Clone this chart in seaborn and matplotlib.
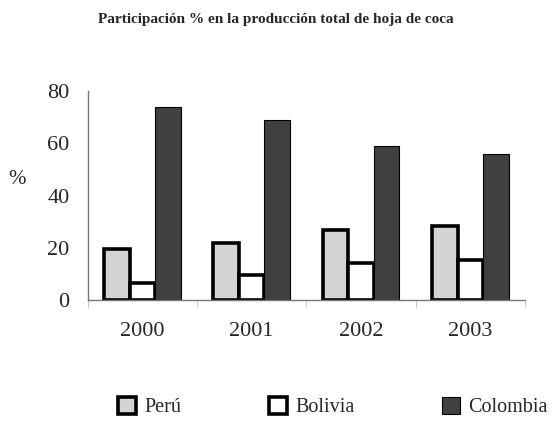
import pandas as pd
import seaborn as sns
import matplotlib.pyplot as plt
from matplotlib.patches import Patch

# datos
years = ["2000", "2001", "2002", "2003"]
peru = [19.5, 22, 27, 28.5]
bolivia = [6.7, 9.8, 14.2, 15.2]
colombia = [74, 69, 58.8, 56]
countries = ["Perú", "Bolivia", "Colombia"]

df = pd.DataFrame({
    "año": years * 3,
    "pais": ["Perú"] * 4 + ["Bolivia"] * 4 + ["Colombia"] * 4,
    "valor": peru + bolivia + colombia,
})

sns.set_style("ticks")
plt.rcParams["font.family"] = ["Liberation Serif", "DejaVu Serif"]

colors = {"Perú": "#d4d4d4", "Bolivia": "#ffffff", "Colombia": "#404040"}
edge_w = {"Perú": 2.6, "Bolivia": 2.6, "Colombia": 0.8}

fig = plt.figure(figsize=(5.52, 4.21), dpi=100)
ax = fig.add_axes([0.159, 0.287, 0.792, 0.497])
sns.barplot(data=df, x="año", y="valor", hue="pais", hue_order=countries,
            palette=colors, width=0.7, ax=ax, legend=False)

for cont, name in zip(ax.containers, countries):
    for bar in cont:
        bar.set_edgecolor("black")
        bar.set_linewidth(edge_w[name])

ax.set_xlim(-0.5, 3.5)
ax.set_ylim(0, 80)
ax.set_yticks([0, 20, 40, 60, 80])
ax.tick_params(axis="y", labelsize=16, length=0, pad=13)
ax.tick_params(axis="x", which="major", labelsize=16, length=0, pad=16)
ax.set_xticks([-0.5, 0.5, 1.5, 2.5, 3.5], minor=True)
ax.tick_params(axis="x", which="minor", length=5, color="#bbbbbb")
ax.set_xlabel("")
ax.set_ylabel("")
sns.despine(ax=ax)
for s in ["left", "bottom"]:
    ax.spines[s].set_color("#777777")
    ax.spines[s].set_linewidth(1)

fig.text(17 / 552, 1 - 180 / 421, "%", fontsize=15, ha="center", va="center")

fig.suptitle("Participación % en la producción total de hoja de coca",
             fontsize=11, fontweight="bold", y=0.97)

handles = [Patch(facecolor=colors[c], edgecolor="black", linewidth=edge_w[c]) for c in countries]
fig.legend(handles, countries, loc="center", bbox_to_anchor=(0.603, 0.033), ncol=3,
           frameon=False, fontsize=14.5, handlelength=0.9, handleheight=0.9,
           handletextpad=0.4, columnspacing=4.35)

fig.savefig("out.png", dpi=100)
